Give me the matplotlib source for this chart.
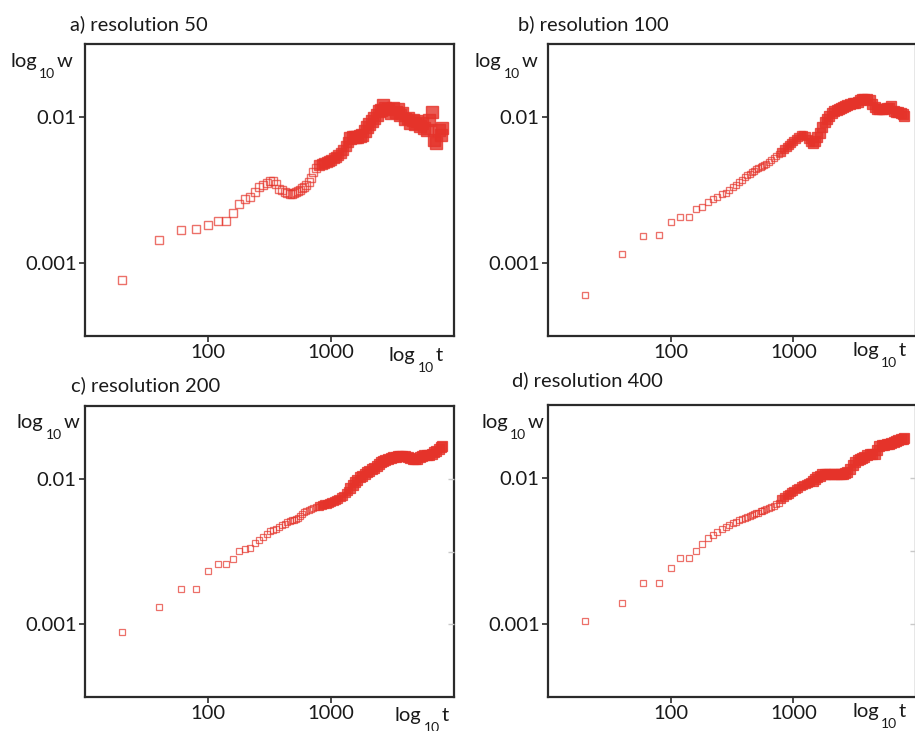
import matplotlib
matplotlib.use('Agg')
import matplotlib.pyplot as plt
from matplotlib.ticker import NullLocator

plt.rcParams['font.family'] = ['Lato', 'DejaVu Sans']

# ---------------- data ----------------
t = [20, 40, 60, 80, 100, 120, 140, 160, 180, 200, 220, 240, 260, 280, 300,
     320, 340, 360, 380, 400, 420, 440, 460, 480, 500, 520, 540, 560, 580, 600,
     630, 660, 690, 720, 760, 800, 840, 880, 920, 960, 1000, 1050, 1100, 1150,
     1200, 1260, 1320, 1380, 1440, 1500, 1570, 1640, 1720, 1800, 1880, 1960,
     2050, 2150, 2250, 2350, 2450, 2550, 2650, 2750, 2900, 3050, 3200, 3350,
     3500, 3650, 3800, 4000, 4200, 4400, 4600, 4800, 5000, 5250, 5500, 5750,
     6000, 6300, 6600, 6900, 7200, 7500, 7800, 8000]

w_res50 = [0.000765, 0.00144, 0.00168, 0.00170, 0.00182, 0.00194, 0.00195, 0.00221,
           0.00252, 0.00273, 0.00285, 0.00308, 0.00333, 0.00342, 0.00352, 0.00365,
           0.00367, 0.00347, 0.00321, 0.00316, 0.00307, 0.00302, 0.00299, 0.00299,
           0.00302, 0.00307, 0.00311, 0.00316, 0.00326, 0.00334,
           0.00342, 0.00359, 0.00382, 0.00420, 0.00448, 0.00469, 0.00476, 0.00484,
           0.00492, 0.00499, 0.00508, 0.00524, 0.00532, 0.00549, 0.00567, 0.00594,
           0.00633, 0.00674, 0.00718, 0.00730, 0.00730, 0.00730, 0.00741, 0.00753,
           0.00802, 0.00854, 0.00896, 0.00939, 0.00984, 0.0103, 0.0110, 0.0111,
           0.0121, 0.0115, 0.0114, 0.0107, 0.0116, 0.0109, 0.0113, 0.0104, 0.0106,
           0.0097, 0.00985, 0.00910, 0.00950, 0.00900, 0.00935, 0.00870, 0.00905,
           0.00845, 0.00815, 0.00954, 0.0108, 0.00696, 0.00664, 0.00815, 0.00753,
           0.00841]

w_res100 = [0.000604, 0.00115, 0.00153, 0.00155, 0.00191, 0.00205, 0.00205, 0.00233,
            0.00243, 0.00263, 0.00273, 0.00285, 0.00297, 0.00303, 0.00316, 0.00329,
            0.00342, 0.00356, 0.00370, 0.00388, 0.00401, 0.00410, 0.00420, 0.00430,
            0.00440, 0.00448, 0.00455, 0.00462, 0.00469, 0.00480,
            0.00492, 0.00508, 0.00524, 0.00541, 0.00558, 0.00580, 0.00604, 0.00623,
            0.00643, 0.00664, 0.00685, 0.00707, 0.00730, 0.00747, 0.00753, 0.00741,
            0.00707, 0.00674, 0.00664, 0.00685, 0.00730, 0.00777, 0.00854, 0.00924,
            0.00969, 0.0102, 0.0107, 0.0110, 0.0112, 0.0114, 0.0116, 0.0118,
            0.0119, 0.0121, 0.0123, 0.0124, 0.0125, 0.0127, 0.0130, 0.0133, 0.0133,
            0.0133, 0.0130, 0.0123, 0.0117, 0.0113, 0.0113, 0.0113, 0.0113,
            0.0115, 0.0115, 0.0119, 0.0110, 0.0108, 0.0108, 0.0107, 0.0105,
            0.0102]

w_res200 = [0.000891, 0.00131, 0.00174, 0.00174, 0.00234, 0.00258, 0.00258, 0.00282,
            0.00319, 0.00329, 0.00332, 0.00359, 0.00382, 0.00398, 0.00417, 0.00434,
            0.00444, 0.00455, 0.00469, 0.00484, 0.00492, 0.00502, 0.00510, 0.00517,
            0.00524, 0.00532, 0.00541, 0.00558, 0.00576, 0.00590,
            0.00599, 0.00613, 0.00623, 0.00633, 0.00638, 0.00648, 0.00664, 0.00669,
            0.00674, 0.00679, 0.00690, 0.00707, 0.00718, 0.00730, 0.00753, 0.00765,
            0.00802, 0.00828, 0.00868, 0.00910, 0.00954, 0.00984, 0.0103, 0.0105,
            0.0108, 0.0112, 0.0113, 0.0117, 0.0119, 0.0123, 0.0127, 0.0130,
            0.0133, 0.0135, 0.0137, 0.0139, 0.0140, 0.0141, 0.0143, 0.0144, 0.0144,
            0.0144, 0.0141, 0.0139, 0.0137, 0.0136, 0.0137, 0.0141, 0.0144,
            0.0145, 0.0146, 0.0146, 0.0148, 0.0153, 0.0156, 0.0161, 0.0166,
            0.0168]

w_res400 = [0.00105, 0.00139, 0.00190, 0.00190, 0.00242, 0.00282, 0.00282, 0.00315,
            0.00353, 0.00386, 0.00407, 0.00427, 0.00444, 0.00460, 0.00473, 0.00488,
            0.00502, 0.00512, 0.00520, 0.00532, 0.00541, 0.00549, 0.00558, 0.00567,
            0.00573, 0.00580, 0.00590, 0.00597, 0.00604, 0.00610,
            0.00620, 0.00630, 0.00643, 0.00659, 0.00679, 0.00718, 0.00741, 0.00765,
            0.00783, 0.00802, 0.00821, 0.00841, 0.00858, 0.00875, 0.00889, 0.00903,
            0.00917, 0.00939, 0.00958, 0.00984, 0.0101, 0.0103, 0.0106, 0.0107,
            0.0107, 0.0107, 0.0107, 0.0107, 0.0107, 0.0107, 0.0107, 0.0107,
            0.0108, 0.0110, 0.0115, 0.0123, 0.0129, 0.0133, 0.0136, 0.0138, 0.0140,
            0.0143, 0.0145, 0.0146, 0.0147, 0.0156, 0.0166, 0.0167, 0.0168,
            0.0170, 0.0171, 0.0174, 0.0176, 0.0179, 0.0181, 0.0184, 0.0186,
            0.0189]

titles = ['a) resolution 50', 'b) resolution 100', 'c) resolution 200', 'd) resolution 400']
x_ticks = [100, 1000]
x_tick_labels = ['100', '1000']
y_ticks = [0.01, 0.001]
y_tick_labels = ['0.01', '0.001']
x_limits = (10, 10000)
y_limits = (10 ** -3.5, 10 ** -1.5)

# overlap regimes (style only): open squares, lightly overlapped, heavily overlapped
dense_from = 800
heavy_from = 1400

# ---------------- layout ----------------
W, H = 915, 731
fig = plt.figure(figsize=(W / 100, H / 100), dpi=100)

def fx(x):
    return x / W

def fy(y):
    return 1 - y / H

RED = '#e5332a'
DARK = '#2b2b2b'
TXT = '#1a1a1a'

panels = [
    dict(box=(85, 44, 454, 336), w=w_res50, ms=5.8, ms_heavy=8.0, mew=1.0, title=(70, 30.5),
         ylab=(10, 66.7), xlab=(389, 361), right_ticks=False),
    dict(box=(548, 44, 916, 336), w=w_res100, ms=4.9, ms_heavy=7.2, mew=0.95, title=(518, 30.5),
         ylab=(475, 66.7), xlab=(852, 356), right_ticks=False),
    dict(box=(85, 406, 454, 697), w=w_res200, ms=4.1, ms_heavy=7.0, mew=0.9, title=(71, 391.5),
         ylab=(17, 428), xlab=(395, 721), right_ticks=True),
    dict(box=(548, 405, 916, 697), w=w_res400, ms=4.4, ms_heavy=6.6, mew=0.9, title=(512, 386.5),
         ylab=(481, 428), xlab=(852, 717), right_ticks=True),
]

def sub_label(x, y, main, tail):
    fig.text(fx(x), fy(y), main, fontsize=14.5, color=TXT, ha='left', va='baseline')
    fig.text(fx(x + 29), fy(y + 11), '10', fontsize=10, color=TXT, ha='left', va='baseline')
    fig.text(fx(x + 47), fy(y), tail, fontsize=14.5, color=TXT, ha='left', va='baseline')

for p, title in zip(panels, titles):
    l, tp, r, b = p['box']
    ax = fig.add_axes([fx(l), fy(b), (r - l) / W, (b - tp) / H])
    ax.set_xscale('log')
    ax.set_yscale('log')
    g1 = [(tt, ww) for tt, ww in zip(t, p['w']) if tt < dense_from]
    g2 = [(tt, ww) for tt, ww in zip(t, p['w']) if dense_from <= tt < heavy_from]
    g3 = [(tt, ww) for tt, ww in zip(t, p['w']) if tt >= heavy_from]
    ax.plot([g[0] for g in g1], [g[1] for g in g1], linestyle='none', marker='s',
            ms=p['ms'], mfc='none', mec=RED, mew=p['mew'], alpha=0.7)
    ms_mid = 0.5 * (p['ms'] + p['ms_heavy'])
    ax.plot([g[0] for g in g2], [g[1] for g in g2], linestyle='none', marker='s',
            ms=ms_mid, mfc=RED, mec=RED, mew=p['mew'], alpha=0.75)
    ax.plot([g[0] for g in g3], [g[1] for g in g3], linestyle='none', marker='s',
            ms=p['ms_heavy'], mfc=RED, mec=RED, mew=p['mew'], alpha=0.8)
    ax.set_xlim(*x_limits)
    ax.set_ylim(*y_limits)
    ax.set_xticks(x_ticks)
    ax.set_xticklabels(x_tick_labels)
    ax.set_yticks(y_ticks)
    ax.set_yticklabels(y_tick_labels)
    ax.xaxis.set_minor_locator(NullLocator())
    ax.yaxis.set_minor_locator(NullLocator())
    ax.tick_params(direction='out', length=4, width=1.2, color=DARK,
                   labelsize=14.5, labelcolor=TXT, pad=2)
    for s in ax.spines.values():
        s.set_linewidth(1.6)
        s.set_color(DARK)
    if p['right_ticks']:
        tw = ax.twinx()
        tw.set_yscale('log')
        tw.set_ylim(*y_limits)
        tw.set_yticks([1e-2, 10 ** -2.5, 1e-3])
        tw.yaxis.set_minor_locator(NullLocator())
        tw.set_yticklabels([])
        tw.tick_params(direction='in', length=4, width=1.0, color='#c9c9c9')
        for s in tw.spines.values():
            s.set_visible(False)
    fig.text(fx(p['title'][0]), fy(p['title'][1]), title, fontsize=14.5, color=TXT,
             ha='left', va='baseline')
    sub_label(p['ylab'][0], p['ylab'][1], 'log', 'w')
    sub_label(p['xlab'][0], p['xlab'][1], 'log', 't')

fig.savefig('out.png', dpi=100)
